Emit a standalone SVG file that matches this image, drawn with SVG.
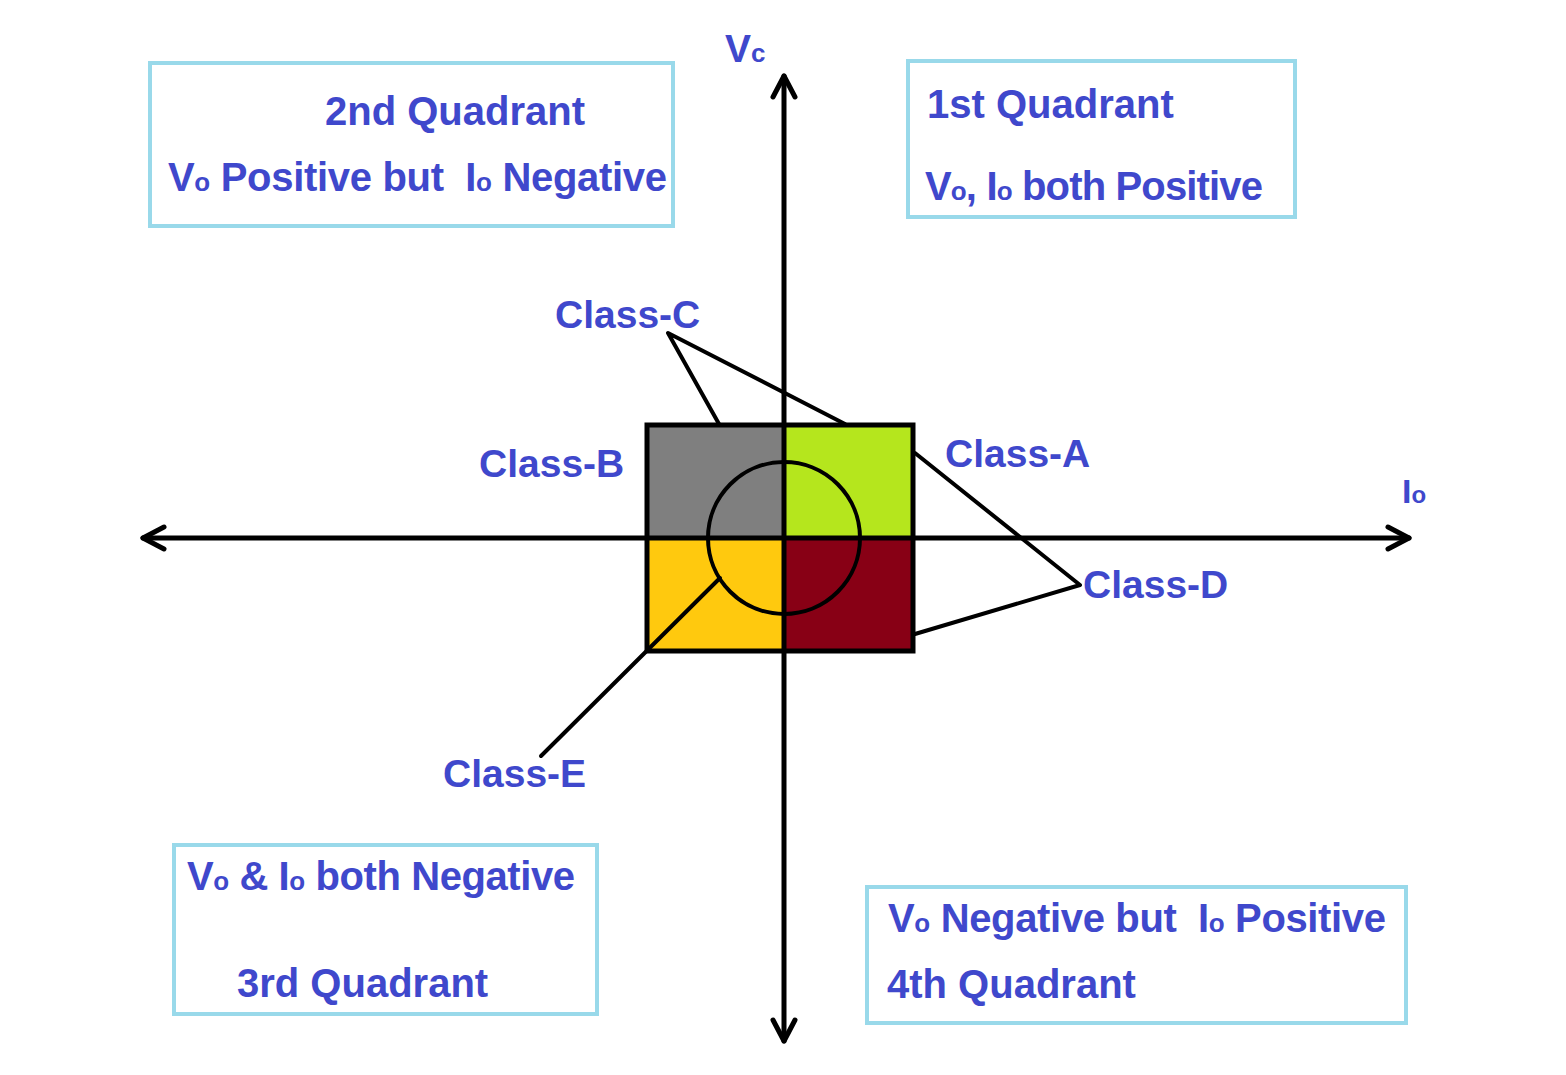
<svg xmlns="http://www.w3.org/2000/svg" width="1566" height="1075" viewBox="0 0 1566 1075">
<style>
.t{font-family:"Liberation Sans",Arial,sans-serif;font-weight:bold;font-size:39px;fill:#3f48cc;white-space:pre}
.q{font-size:40px}
.s{font-size:26px}
.box{fill:none;stroke:#99d9ea;stroke-width:4}
.ln{fill:none;stroke:#000;stroke-width:4;stroke-linecap:round;stroke-linejoin:round}
.ax{fill:none;stroke:#000;stroke-width:5;stroke-linecap:round;stroke-linejoin:round}
</style>
<rect width="1566" height="1075" fill="#fff"/>
<g id="quadrant-square">
<rect x="647" y="425" width="137" height="113" fill="#7f7f7f"/>
<rect x="784" y="425" width="129" height="113" fill="#b5e61d"/>
<rect x="647" y="538" width="137" height="113" fill="#ffc90e"/>
<rect x="784" y="538" width="129" height="113" fill="#880015"/>
<rect x="647" y="425" width="266" height="226" fill="none" stroke="#000" stroke-width="5"/>
<circle cx="784" cy="538" r="76" fill="none" stroke="#000" stroke-width="4"/>
</g>
<g id="axes">
<line class="ax" x1="784" y1="76" x2="784" y2="1041"/>
<polyline class="ax" points="773,97 784,76 795,97"/>
<polyline class="ax" points="773,1020 784,1041 795,1020"/>
<line class="ax" x1="143" y1="538" x2="1409" y2="538"/>
<polyline class="ax" points="164,527 143,538 164,549"/>
<polyline class="ax" points="1388,527 1409,538 1388,549"/>
</g>
<g id="connectors">
<polyline class="ln" points="719,424 668,333 845,424"/>
<polyline class="ln" points="915,453 1080,585 915,634"/>
<line class="ln" x1="541" y1="756" x2="720" y2="578"/>
</g>
<g id="axis-labels">
<text class="t" x="725" y="62">V<tspan class="s">c</tspan></text>
<text class="t" x="1402" y="503" style="font-size:34px">I<tspan class="s" style="font-size:24px">o</tspan></text>
</g>
<g id="q2">
<rect class="box" x="150" y="63" width="523" height="163"/>
<text class="t q" x="325" y="125">2nd Quadrant</text>
<text class="t q" x="168" y="191" textLength="499">V<tspan class="s">o</tspan> Positive but  I<tspan class="s">o</tspan> Negative</text>
</g>
<g id="q1">
<rect class="box" x="908" y="61" width="387" height="156"/>
<text class="t q" x="927" y="118">1st Quadrant</text>
<text class="t q" x="925" y="200" textLength="338">V<tspan class="s">o</tspan>, I<tspan class="s">o</tspan> both Positive</text>
</g>
<g id="q3">
<rect class="box" x="174" y="845" width="423" height="169"/>
<text class="t q" x="187" y="890" textLength="388">V<tspan class="s">o</tspan> &amp; I<tspan class="s">o</tspan> both Negative</text>
<text class="t q" x="237" y="997">3rd Quadrant</text>
</g>
<g id="q4">
<rect class="box" x="867" y="887" width="539" height="136"/>
<text class="t q" x="888" y="932" textLength="498">V<tspan class="s">o</tspan> Negative but  I<tspan class="s">o</tspan> Positive</text>
<text class="t q" x="887" y="998">4th Quadrant</text>
</g>
<g id="class-labels">
<text class="t" x="555" y="328">Class-C</text>
<text class="t" x="479" y="477">Class-B</text>
<text class="t" x="945" y="467">Class-A</text>
<text class="t" x="1083" y="598">Class-D</text>
<text class="t" x="443" y="787">Class-E</text>
</g>
</svg>
